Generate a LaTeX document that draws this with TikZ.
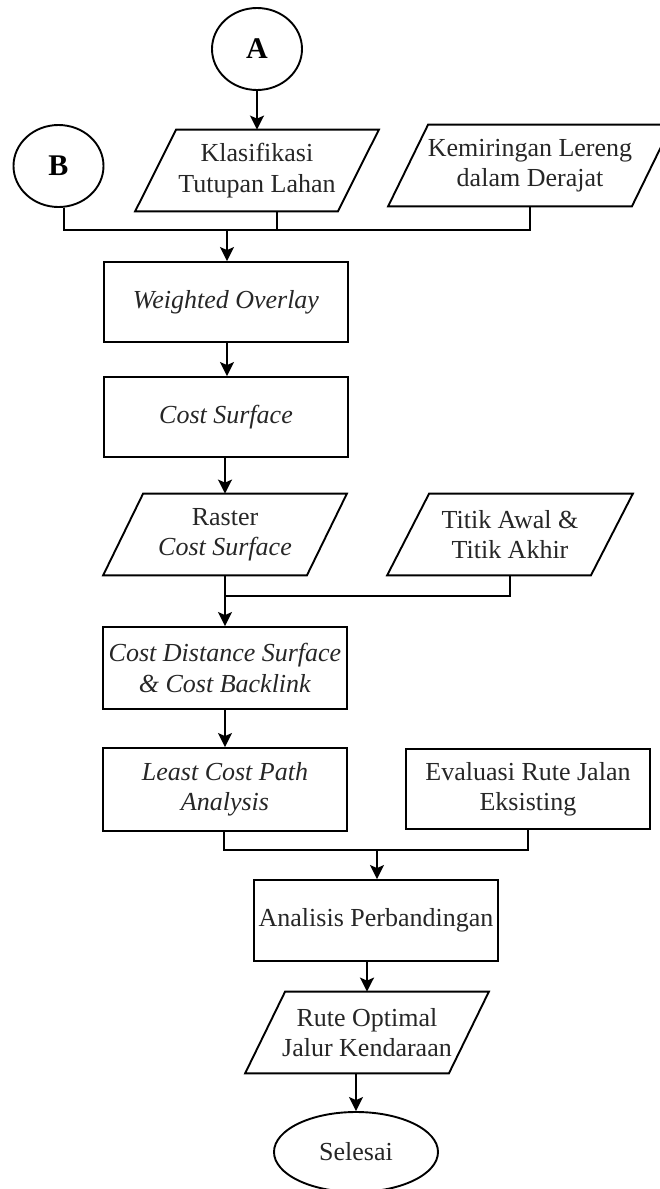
\documentclass[tikz,border=0pt]{standalone}
\usepackage{fontspec}
\setmainfont{Liberation Serif}
\usetikzlibrary{shapes.geometric,calc,arrows.meta}
\newcommand\txtfont{\fontsize{13}{15.2}\selectfont}
\newcommand\drawpara[2]{\draw[line] (#1.south west) -- ($(#1.north west)+(#2,0)$) -- (#1.north east) -- ($(#1.south east)-(#2,0)$) -- cycle;}
\begin{document}
\begin{tikzpicture}[x=0.5pt,y=-0.5pt,
  line/.style={line width=0.95pt, draw=black},
  arr/.style={line, -{Stealth[length=7pt,width=7pt,inset=1.5pt]}},
  procbox/.style={line, rectangle, inner sep=0pt, minimum width=122pt, minimum height=40pt, align=center, text=black!85, font=\txtfont},
  parabox/.style={rectangle, inner sep=0pt, minimum height=40.5pt, align=center, text=black!85, font=\txtfont},
  connector/.style={line, ellipse, inner sep=0pt, minimum width=45pt, minimum height=41pt, font=\fontsize{15}{16}\selectfont\bfseries},
  endbox/.style={line, ellipse, inner sep=0pt, minimum width=82pt, minimum height=40pt, text=black!85, font=\txtfont}]
\useasboundingbox (0,0) rectangle (659,1189);
% connectors A, B
\node[connector] (A) at (257,49) {A};
\node[connector] (B) at (58.5,166) {B};
% parallelograms top
\node[parabox, minimum width=121.5pt] (klas) at (257,170.5) {Klasifikasi\\Tutupan Lahan};
\drawpara{klas}{41}
\node[parabox, minimum width=141.5pt] (kemi) at (530,165.5) {Kemiringan Lereng\\dalam Derajat};
\drawpara{kemi}{40}
% process boxes
\node[procbox] (wo) at (226,302) {\textit{Weighted Overlay}};
\node[procbox] (cs) at (226,417) {\textit{Cost Surface}};
\node[parabox, minimum width=121.5pt] (raster) at (225,534.5) {Raster\\\textit{Cost Surface}};
\drawpara{raster}{40}
\node[parabox, minimum width=122.5pt] (titik) at (510,534.5) {Titik Awal \&\\Titik Akhir};
\drawpara{titik}{42}
\node[procbox, minimum height=41pt] (cds) at (225,668) {\textit{Cost Distance Surface}\\\textit{\& Cost Backlink}};
\node[procbox, minimum height=41.5pt] (lcp) at (225,789.5) {\textit{Least Cost Path}\\\textit{Analysis}};
\node[procbox] (eval) at (528,789) {Evaluasi Rute Jalan\\Eksisting};
\node[procbox, minimum height=40.5pt] (anal) at (376,920.5) {Analisis Perbandingan};
\node[parabox, minimum width=121.5pt] (rute) at (367,1032.5) {Rute Optimal\\Jalur Kendaraan};
\drawpara{rute}{40}
\node[endbox] (sel) at (356,1152) {Selesai};
% junction coordinates
\coordinate (j1) at (227,230);
\coordinate (j2) at (225,596);
\coordinate (j3) at (377,850);
% connections
\draw[arr] (A.south) -- (A.south |- klas.north);
\draw[line] (B.-83) |- (j1);
\draw[line] ($(klas.south)+(20,0)$) |- (j1);
\draw[line] (kemi.south) |- (j1);
\draw[arr] (j1) -- (j1 |- wo.north);
\draw[arr] (wo.south -| j1) -- (j1 |- cs.north);
\draw[arr] (cs.south -| raster.north) -- (raster.north);
\draw[line] (raster.south -| j2) -- (j2);
\draw[line] (titik.south) |- (j2);
\draw[arr] (j2) -- (j2 |- cds.north);
\draw[arr] (cds.south -| j2) -- (j2 |- lcp.north);
\draw[line] ($(lcp.south)+(-1,0)$) |- (j3);
\draw[line] (eval.south) |- (j3);
\draw[arr] (j3) -- (j3 |- anal.north);
\draw[arr] (anal.south -| rute.north) -- (rute.north);
\draw[arr] (rute.south -| sel.north) -- (sel.north);
\end{tikzpicture}
\end{document}
